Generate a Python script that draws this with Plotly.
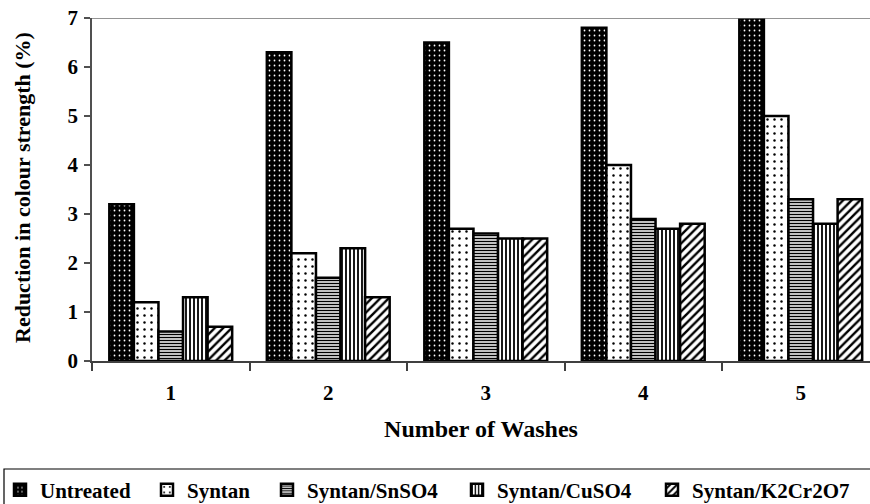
import plotly.graph_objects as go

washes = ["1", "2", "3", "4", "5"]
series_names = ["Untreated", "Syntan", "Syntan/SnSO4", "Syntan/CuSO4", "Syntan/K2Cr2O7"]
untreated = [3.2, 6.3, 6.5, 6.8, 7.0]
syntan = [1.2, 2.2, 2.7, 4.0, 5.0]
syntan_snso4 = [0.6, 1.7, 2.6, 2.9, 3.3]
syntan_cuso4 = [1.3, 2.3, 2.5, 2.7, 2.8]
syntan_k2cr2o7 = [0.7, 1.3, 2.5, 2.8, 3.3]
y_ticks = [0, 1, 2, 3, 4, 5, 6, 7]

values = [untreated, syntan, syntan_snso4, syntan_cuso4, syntan_k2cr2o7]
patterns = [
    dict(shape=".", bgcolor="black", fgcolor="white", size=5, solidity=0.1, fillmode="replace"),
    dict(shape=".", bgcolor="white", fgcolor="black", size=7, solidity=0.1, fillmode="replace"),
    dict(shape="-", bgcolor="white", fgcolor="black", size=3, solidity=0.5, fillmode="replace"),
    dict(shape="|", bgcolor="white", fgcolor="black", size=4, solidity=0.45, fillmode="replace"),
    dict(shape="/", bgcolor="white", fgcolor="black", size=6, solidity=0.4, fillmode="replace"),
]
base_colors = ["black", "white", "white", "white", "white"]

W, H = 870, 504
L, R, T, B = 92, 0, 18, 143
pw, ph = W - L - R, H - T - B

def px_x(x):
    return (x - L) / pw

def px_y(y):
    return (H - B - y) / ph

legend_text_px = [47, 195, 315, 505, 700]
legend_names = ["legend", "legend2", "legend3", "legend4", "legend5"]

font_family = "Liberation Serif"

fig = go.Figure()
for i, (name, vals) in enumerate(zip(series_names, values)):
    fig.add_trace(go.Bar(
        x=washes, y=vals, name=name,
        marker=dict(color=base_colors[i], pattern=patterns[i],
                    line=dict(color="black", width=2.5)),
        legend=legend_names[i],
    ))

layout_legends = {}
for i, ln in enumerate(legend_names):
    layout_legends[ln] = dict(
        x=px_x(max(0, legend_text_px[i] - 48)), xanchor="left",
        y=px_y(490), yanchor="middle",
        orientation="h", bgcolor="rgba(0,0,0,0)", borderwidth=0,
        font=dict(family=font_family, size=21, color="black", weight="bold"),
        itemwidth=30,
    )

fig.update_layout(
    width=W, height=H,
    margin=dict(l=L, r=R, t=T, b=B, autoexpand=False),
    paper_bgcolor="white", plot_bgcolor="white",
    barmode="group", bargap=0.22, bargroupgap=0,
    showlegend=True,
    font=dict(family=font_family, color="black"),
    **layout_legends,
)

fig.update_xaxes(
    type="category", automargin=False,
    range=[-0.5, -0.5 + pw / 157.5],
    showline=True, linecolor="#404040", linewidth=1.5,
    ticks="outside", tickson="boundaries", ticklen=8, tickcolor="#404040", tickwidth=1.5,
    ticklabelstandoff=12,
    tickfont=dict(family=font_family, size=21, color="black", weight="bold"),
    showgrid=False, zeroline=False,
    title=dict(text="Number of Washes", standoff=16,
               font=dict(family=font_family, size=24, color="black", weight="bold")),
)
fig.update_yaxes(
    range=[0, 7], tickvals=y_ticks, automargin=False,
    showline=True, linecolor="#505050", linewidth=1.5,
    ticks="outside", ticklen=6, tickcolor="#505050", tickwidth=1.5,
    ticklabelstandoff=2,
    tickfont=dict(family=font_family, size=21, color="black", weight="bold"),
    showgrid=False, zeroline=False,
)

fig.add_annotation(
    text="Reduction in colour strength (%)", textangle=-90,
    xref="paper", yref="paper", x=px_x(22), y=px_y(188),
    xanchor="center", yanchor="middle", showarrow=False,
    font=dict(family=font_family, size=22, color="black", weight="bold"),
)

fig.add_shape(type="line", xref="paper", yref="y", x0=0, x1=1, y0=7, y1=7,
              line=dict(color="#707070", width=1.5))
fig.add_shape(type="rect", xref="paper", yref="paper",
              x0=px_x(4), x1=px_x(875), y0=px_y(469), y1=px_y(510),
              line=dict(color="black", width=1.2), fillcolor="rgba(0,0,0,0)")

fig.write_html("out.html", config={"displayModeBar": False},
               post_script="document.body.style.margin='0';")
